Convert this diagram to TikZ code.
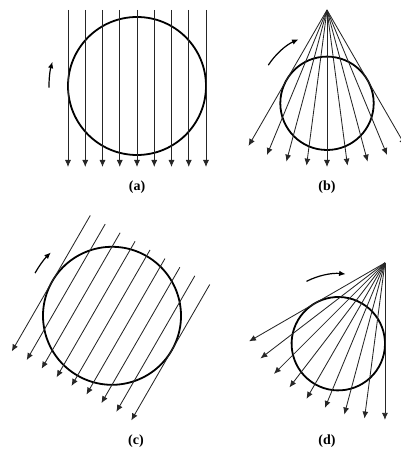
\documentclass[tikz,border=0pt]{standalone}
\usepackage{fontspec}
\setmainfont{Liberation Serif}
\usepackage{tikz}
\usetikzlibrary{arrows.meta}

\begin{document}
\begin{tikzpicture}[
        x=1pt, y=1pt,
        % rays of the beam
        ray/.style={line width=0.85pt, draw=black!85, -{Latex[length=7pt,width=6pt]}},
        % the round object
        rim/.style={line width=1.8pt},
        % small curved arrow showing the turn
        turn/.style={line width=1.2pt, -{Latex[length=6.5pt,width=5.5pt]}},
        tag/.style={font=\bfseries\fontsize{14}{16}\selectfont, inner sep=0pt}
    ]
        \useasboundingbox (0,0) rectangle (401,452);

        % ====================
        % (a) parallel beam
        % ====================
        \begin{scope}[shift={(137,366)}]
            \coordinate (A) at (0,0);
            \draw[rim] (A) circle (69);
            \foreach \u in {-4,...,4}
                \draw[ray] (\u*17.25,76) -- (\u*17.25,-81);
            \draw[turn] (181:88) arc (181:164:88);
        \end{scope}

        % ====================
        % (b) fan beam
        % ====================
        \begin{scope}[shift={(327,348.7)}]
            \coordinate (B) at (0,0);
            \coordinate (Bsrc) at (0,93.3);
            \draw[rim] (B) circle (46.7);
            \foreach \a in {-30,-22.5,...,30}
                \draw[ray] (Bsrc) -- ++(270+\a:157);
            \draw[turn] (147:70) arc (147:114:70);
        \end{scope}

        % ====================
        % (c) parallel beam, turned
        % ====================
        \begin{scope}[shift={(112,136.2)}, rotate=-30]
            \coordinate (C) at (0,0);
            \draw[rim] (C) circle (69);
            \foreach \u in {-4,...,4}
                \draw[ray] (\u*17.25,76) -- (\u*17.25,-81);
            \draw[turn] (181:88) arc (181:164:88);
        \end{scope}

        % ====================
        % (d) fan beam, turned
        % ====================
        \begin{scope}[shift={(338.3,108.3)}, rotate=-30]
            \coordinate (D) at (0,0);
            \coordinate (Dsrc) at (0,93.3);
            \draw[rim] (D) circle (46.7);
            \foreach \a in {-30,-22.5,...,30}
                \draw[ray] (Dsrc) -- ++(270+\a:157);
            \draw[turn] (147:70) arc (147:114:70);
        \end{scope}

        % labels
        \node[tag] (tagA) at (137,265) {(a)};
        \node[tag] (tagB) at (327,265) {(b)};
        \node[tag] (tagC) at (136,10.5) {(c)};
        \node[tag] (tagD) at (327,10.5) {(d)};

    \end{tikzpicture}
\end{document}
